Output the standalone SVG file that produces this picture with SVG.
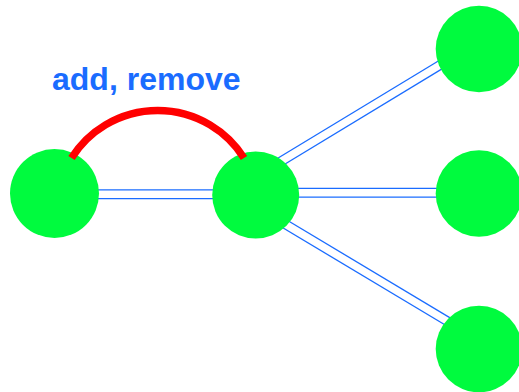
<svg xmlns="http://www.w3.org/2000/svg" width="519" height="392" viewBox="0 0 519 392">
  <style>
    .link-outer { stroke: #1a6cff; stroke-width: 10; fill: none; }
    .link-inner { stroke: #ffffff; stroke-width: 7.4; fill: none; }
    .node { fill: #00fb3e; }
    .arc { fill: none; stroke: #ff0000; stroke-width: 7.5; }
    .label { font-family: "Liberation Sans", Arial, sans-serif; font-weight: bold; font-size: 32px; fill: #1a6cff; }
  </style>
  <rect width="519" height="392" fill="#ffffff"/>

  <!-- double-line links: a blue band with a white core -->
  <g id="connectors">
    <g id="link-a-b">
      <line class="link-outer" x1="90" y1="194.3" x2="220" y2="194.3"/>
      <line class="link-inner" x1="90" y1="194.3" x2="220" y2="194.3"/>
    </g>
    <g id="link-b-c">
      <line class="link-outer" x1="275" y1="165" x2="448" y2="60.2"/>
      <line class="link-inner" x1="275" y1="165" x2="448" y2="60.2"/>
    </g>
    <g id="link-b-d">
      <line class="link-outer" x1="290" y1="192.8" x2="445" y2="192.8"/>
      <line class="link-inner" x1="290" y1="192.8" x2="445" y2="192.8"/>
    </g>
    <g id="link-b-e">
      <line class="link-outer" x1="280" y1="221" x2="455" y2="325.8"/>
      <line class="link-inner" x1="280" y1="221" x2="455" y2="325.8"/>
    </g>
  </g>

  <g id="node-a"><circle class="node" cx="54.5" cy="193.5" r="44.5"/></g>
  <g id="node-b"><circle class="node" cx="255.7" cy="195" r="43.5"/></g>
  <g id="node-c"><circle class="node" cx="479" cy="49" r="43.3"/></g>
  <g id="node-d"><circle class="node" cx="479" cy="193.5" r="43.3"/></g>
  <g id="node-e"><circle class="node" cx="479" cy="349" r="43.3"/></g>

  <!-- red arc between the two left nodes, drawn over their rims -->
  <g id="arc-a-b">
    <path class="arc" d="M 71.5 158 A 102 102 0 0 1 244 158"/>
  </g>

  <text class="label" x="52" y="90">add, remove</text>
</svg>
